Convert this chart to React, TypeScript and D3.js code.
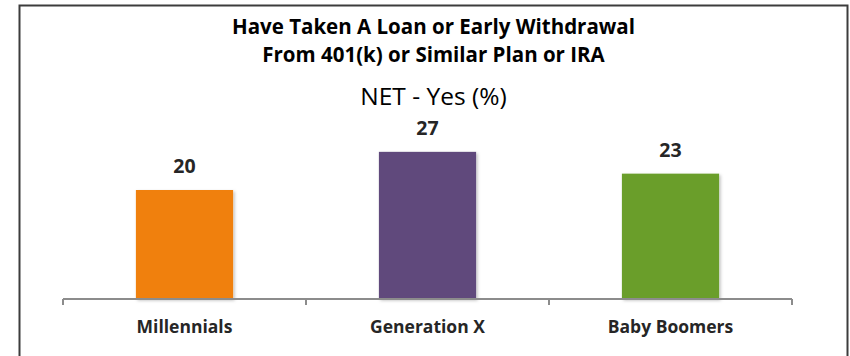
import * as d3 from "d3";
import { useEffect, useRef } from "react";

const categories = ["Millennials", "Generation X", "Baby Boomers"];
const values = [20, 27, 23];
const barColors = ["#F0800E", "#604A7B", "#6B9E2A"];
const titleLines = ["Have Taken A Loan or Early Withdrawal", "From 401(k) or Similar Plan or IRA"];
const subtitle = "NET - Yes (%)";

export default function App() {
  const svgRef = useRef<SVGSVGElement>(null);

  useEffect(() => {
    const width = 850;
    const height = 356;
    const font = "'Open Sans', 'Liberation Sans', sans-serif";

    const svg = d3.select(svgRef.current)
      .attr("width", width)
      .attr("height", height);

    svg.selectAll("*").remove();

    // shadow for bars
    const defs = svg.append("defs");
    const filter = defs.append("filter")
      .attr("id", "barShadow")
      .attr("x", "-10%").attr("y", "-10%")
      .attr("width", "130%").attr("height", "130%");
    filter.append("feDropShadow")
      .attr("dx", 1.5).attr("dy", 1.5)
      .attr("stdDeviation", 1.5)
      .attr("flood-color", "#000")
      .attr("flood-opacity", 0.25);

    // frame
    svg.append("rect")
      .attr("x", 0).attr("y", 0)
      .attr("width", width).attr("height", height)
      .attr("fill", "#fff");
    svg.append("rect")
      .attr("x", 19.5).attr("y", 5.5)
      .attr("width", 828).attr("height", 360)
      .attr("fill", "none")
      .attr("stroke", "#3c3c3c")
      .attr("stroke-width", 2);

    const left = 63, right = 792, baseY = 299;

    const x = d3.scaleBand<string>()
      .domain(categories)
      .range([left, right])
      .paddingInner(0.6)
      .paddingOuter(0.3);

    const y = d3.scaleLinear()
      .domain([0, 20])
      .range([baseY, baseY - 109]);

    // titles
    const titleX = 433.5;
    titleLines.forEach((t, i) => {
      svg.append("text")
        .attr("x", titleX)
        .attr("y", 33.5 + i * 28)
        .attr("text-anchor", "middle")
        .attr("font-family", font)
        .attr("font-weight", "bold")
        .attr("font-size", 20.5)
        .attr("fill", "#000")
        .text(t);
    });
    svg.append("text")
      .attr("x", titleX)
      .attr("y", 105)
      .attr("text-anchor", "middle")
      .attr("font-family", font)
      .attr("font-size", 24.5)
      .attr("fill", "#000")
      .text(subtitle);

    // bars
    const rows = categories.map((c, i) => ({ c, v: values[i], color: barColors[i] }));

    svg.append("g")
      .selectAll("rect")
      .data(rows)
      .join("rect")
      .attr("x", d => x(d.c)!)
      .attr("y", d => y(d.v))
      .attr("width", x.bandwidth())
      .attr("height", d => baseY - y(d.v))
      .attr("fill", d => d.color)
      .attr("filter", "url(#barShadow)");

    // value labels
    svg.append("g")
      .selectAll("text")
      .data(rows)
      .join("text")
      .attr("x", d => x(d.c)! + x.bandwidth() / 2)
      .attr("y", d => y(d.v) - 17)
      .attr("text-anchor", "middle")
      .attr("font-family", font)
      .attr("font-weight", "bold")
      .attr("font-size", 19.5)
      .attr("fill", "#262626")
      .text(d => d.v);

    // axis line + ticks at band edges
    const axisColor = "#8c8c8c";
    svg.append("line")
      .attr("x1", left).attr("x2", right)
      .attr("y1", baseY).attr("y2", baseY)
      .attr("stroke", axisColor)
      .attr("stroke-width", 2);

    const step = x.step();
    const tickXs = d3.range(categories.length + 1).map(i => left + i * step);
    svg.append("g")
      .selectAll("line")
      .data(tickXs)
      .join("line")
      .attr("x1", d => d).attr("x2", d => d)
      .attr("y1", baseY).attr("y2", baseY + 6)
      .attr("stroke", axisColor)
      .attr("stroke-width", 2);

    // category labels
    svg.append("g")
      .selectAll("text")
      .data(categories)
      .join("text")
      .attr("x", d => x(d)! + x.bandwidth() / 2)
      .attr("y", 333)
      .attr("text-anchor", "middle")
      .attr("font-family", font)
      .attr("font-weight", "bold")
      .attr("font-size", 17.5)
      .attr("fill", "#262626")
      .text(d => d);
  }, []);

  return <svg ref={svgRef} style={{ position: "absolute", left: 0, top: 0 }}></svg>;
}
